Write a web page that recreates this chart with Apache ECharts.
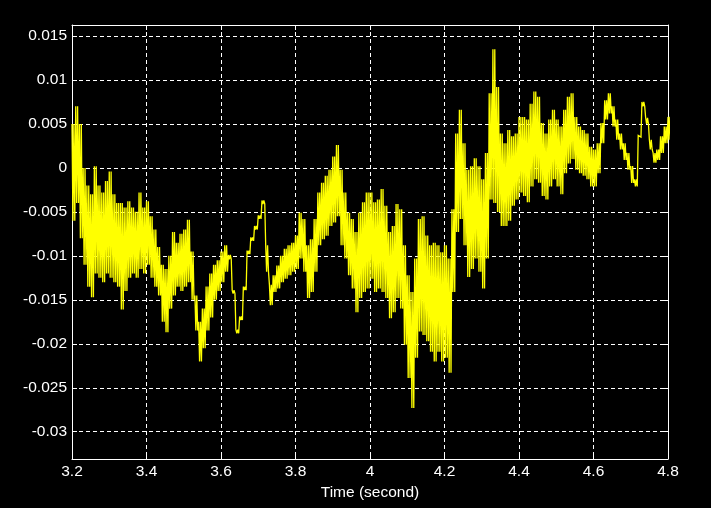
<!DOCTYPE html>
<html>
<head>
<meta charset="utf-8">
<script src="https://cdn.jsdelivr.net/npm/echarts@6/dist/echarts.min.js"></script>
<style>html,body{margin:0;padding:0;background:#000;}#c{width:711px;height:508px;}</style>
</head>
<body>
<div id="c"></div>
<script>
// sample times (s)
const times = [3.20,3.21,3.22,3.23,3.24,3.25,3.26,3.27,3.28,3.29,3.30,3.31,3.32,3.33,3.34,3.35,3.36,3.37,3.38,3.39,
3.40,3.41,3.42,3.43,3.44,3.45,3.46,3.47,3.48,3.49,3.50,3.51,3.52,3.53,3.54,3.55,3.56,3.57,3.58,3.59,
3.60,3.61,3.62,3.63,3.64,3.65,3.66,3.67,3.68,3.69,3.70,3.71,3.72,3.73,3.74,3.75,3.76,3.77,3.78,3.79,
3.80,3.81,3.82,3.83,3.84,3.85,3.86,3.87,3.88,3.89,3.90,3.91,3.92,3.93,3.94,3.95,3.96,3.97,3.98,3.99,
4.00,4.01,4.02,4.03,4.04,4.05,4.06,4.07,4.08,4.09,4.10,4.11,4.12,4.13,4.14,4.15,4.16,4.17,4.18,4.19,
4.20,4.21,4.22,4.23,4.24,4.25,4.26,4.27,4.28,4.29,4.30,4.31,4.32,4.33,4.34,4.35,4.36,4.37,4.38,4.39,
4.40,4.41,4.42,4.43,4.44,4.45,4.46,4.47,4.48,4.49,4.50,4.51,4.52,4.53,4.54,4.55,4.56,4.57,4.58,4.59,
4.60,4.61,4.62,4.63,4.64,4.65,4.66,4.67,4.68,4.69,4.70,4.71,4.72,4.73,4.74,4.75,4.76,4.77,4.78,4.79,4.80];

// upper peaks of the oscillation at each sample
const peaks = [0.005,0.007,0.005,0.000,-0.002,-0.003,0.0002,-0.002,-0.0028,-0.0015,
-0.0004,-0.003,-0.004,-0.004,-0.0045,-0.0038,-0.0045,-0.005,-0.0028,-0.0045,
-0.0038,-0.0055,-0.007,-0.009,-0.011,-0.0115,-0.010,-0.0073,-0.0085,-0.0075,
-0.007,-0.0059,-0.0095,-0.0145,-0.0175,-0.016,-0.0135,-0.012,-0.011,-0.0105,
-0.0095,-0.0088,-0.0099,-0.0139,-0.0184,-0.0169,-0.0135,-0.0094,-0.0079,-0.0066,
-0.0054,-0.0037,-0.0088,-0.0133,-0.0122,-0.0111,-0.0100,-0.0092,-0.0088,-0.0085,
-0.0077,-0.0051,-0.0058,-0.0088,-0.0081,-0.0058,-0.0028,-0.0017,-0.0009,-0.0002,
0.0013,0.0026,-0.0002,-0.0028,-0.0051,-0.0058,-0.0073,-0.0051,-0.0039,-0.0028,
-0.0028,-0.0039,-0.0036,-0.0024,-0.0043,-0.0073,-0.0066,-0.0041,-0.0047,-0.0088,
-0.0122,-0.0141,-0.0103,-0.0058,-0.0055,-0.0077,-0.0088,-0.0085,-0.0088,-0.0096,
-0.0088,-0.0103,-0.0047,0.0039,0.0066,0.0028,-0.0002,0.0002,0.0011,0.0002,
-0.0013,0.0017,0.0085,0.0135,0.0092,0.0039,0.0028,0.0043,0.0036,0.0039,
0.0058,0.0058,0.0055,0.0073,0.0087,0.0081,0.0051,0.0039,0.0055,0.0066,
0.0055,0.0047,0.0066,0.0081,0.0085,0.0058,0.0047,0.0043,0.0039,0.0024,
0.0021,0.0028,0.0051,0.0077,0.0085,0.0070,0.0055,0.0039,0.0028,0.0017,
0.0002,-0.0013,0.0037,0.0075,0.0057,0.0032,0.0017,0.0021,0.0036,0.0047,0.0058];

// lower troughs of the oscillation at each sample
const troughs = [-0.006,-0.004,-0.008,-0.011,-0.0135,-0.0147,-0.012,-0.0125,-0.013,-0.012,
-0.0125,-0.013,-0.0135,-0.0161,-0.014,-0.0125,-0.012,-0.0125,-0.0115,-0.012,
-0.011,-0.0125,-0.0135,-0.0145,-0.0175,-0.0187,-0.016,-0.0145,-0.0135,-0.014,
-0.0135,-0.013,-0.015,-0.0185,-0.022,-0.0205,-0.0185,-0.017,-0.015,-0.014,
-0.013,-0.0118,-0.0104,-0.0143,-0.0188,-0.0173,-0.0139,-0.0098,-0.0083,-0.0070,
-0.0058,-0.0041,-0.0118,-0.0156,-0.0141,-0.0137,-0.0130,-0.0126,-0.0122,-0.0118,
-0.0115,-0.0103,-0.0118,-0.0148,-0.0141,-0.0118,-0.0088,-0.0081,-0.0077,-0.0066,
-0.0062,-0.0055,-0.0088,-0.0103,-0.0122,-0.0137,-0.0164,-0.0148,-0.0141,-0.0137,
-0.0126,-0.0141,-0.0137,-0.0141,-0.0148,-0.0171,-0.0164,-0.0148,-0.0160,-0.0201,
-0.0239,-0.0273,-0.0216,-0.0186,-0.0190,-0.0197,-0.0209,-0.0220,-0.0209,-0.0220,
-0.0216,-0.0233,-0.0141,-0.0073,-0.0058,-0.0088,-0.0124,-0.0115,-0.0103,-0.0118,
-0.0137,-0.0103,-0.0036,-0.0040,-0.0050,-0.0066,-0.0066,-0.0060,-0.0043,-0.0036,
-0.0028,-0.0032,-0.0039,-0.0021,-0.0013,-0.0017,-0.0032,-0.0036,-0.0021,-0.0013,
-0.0021,-0.0030,-0.0006,0.0005,0.0010,-0.0002,-0.0006,-0.0009,-0.0013,-0.0021,
-0.0021,-0.0006,0.0028,0.0055,0.0062,0.0047,0.0032,0.0021,0.0009,-0.0002,
-0.0017,-0.0021,0.0035,0.0070,0.0050,0.0021,0.0006,0.0009,0.0017,0.0028,0.0032];

const xTicks = [3.2,3.4,3.6,3.8,4.0,4.2,4.4,4.6,4.8];
const yTicks = [-0.03,-0.025,-0.02,-0.015,-0.01,-0.005,0,0.005,0.01,0.015];

// two oscillation cycles per sample, swinging between the read peak and trough
const signal = [];
for (let i = 0; i < times.length; i++) {
  signal.push([times[i], peaks[i]]);
  signal.push([times[i] + 0.0025, troughs[i]]);
  signal.push([times[i] + 0.005, peaks[i]]);
  signal.push([times[i] + 0.0075, troughs[i]]);
}

const fmtX = v => String(parseFloat(Number(v).toFixed(1)));
const fmtY = v => String(parseFloat(Number(v).toFixed(3)));
const font = 'Liberation Sans, Arial, sans-serif';
const dash = { color: '#ffffff', width: 1, type: [4, 3] };

const chart = echarts.init(document.getElementById('c'), null, { renderer: 'canvas' });
chart.setOption({
  animation: false,
  backgroundColor: '#000000',
  grid: { left: 72, right: 43, top: 25, bottom: 49, containLabel: false },
  xAxis: [{
    type: 'value', min: 3.2, max: 4.8, interval: 0.2, position: 'bottom',
    name: 'Time (second)', nameLocation: 'middle', nameGap: 24,
    nameTextStyle: { color: '#ffffff', fontSize: 15.5, fontFamily: font },
    axisLine: { show: true, onZero: false, lineStyle: { color: '#ffffff', width: 1 } },
    axisTick: { show: true, inside: true, length: 5, lineStyle: { color: '#ffffff' } },
    axisLabel: { color: '#ffffff', fontSize: 15.5, fontFamily: font, margin: 5, formatter: fmtX, showMinLabel: true, showMaxLabel: true },
    splitLine: { show: true, lineStyle: dash }
  }, {
    type: 'value', min: 3.2, max: 4.8, interval: 0.2, position: 'top',
    axisLine: { show: true, onZero: false, lineStyle: { color: '#ffffff', width: 1 } },
    axisTick: { show: true, inside: true, length: 5, lineStyle: { color: '#ffffff' } },
    axisLabel: { show: false }, splitLine: { show: false }
  }],
  yAxis: [{
    type: 'value', min: -0.0331, max: 0.01625, position: 'left',
    axisLine: { show: true, onZero: false, lineStyle: { color: '#ffffff', width: 1 } },
    axisTick: { show: true, inside: true, length: 5, lineStyle: { color: '#ffffff' }, customValues: yTicks },
    axisLabel: { color: '#ffffff', fontSize: 15.5, fontFamily: font, margin: 5, formatter: fmtY, customValues: yTicks },
    splitLine: { show: true, lineStyle: dash }
  }, {
    type: 'value', min: -0.0331, max: 0.01625, position: 'right',
    axisLine: { show: true, onZero: false, lineStyle: { color: '#ffffff', width: 1 } },
    axisTick: { show: true, inside: true, length: 5, lineStyle: { color: '#ffffff' }, customValues: yTicks },
    axisLabel: { show: false, customValues: yTicks }, splitLine: { show: false }
  }],
  series: [{
    type: 'line', xAxisIndex: 0, yAxisIndex: 0,
    data: signal, showSymbol: false, symbol: 'none', sampling: null, clip: true,
    lineStyle: { color: '#ffff00', width: 1.3, join: 'miter', miterLimit: 3 }
  }]
});
</script>
</body>
</html>
